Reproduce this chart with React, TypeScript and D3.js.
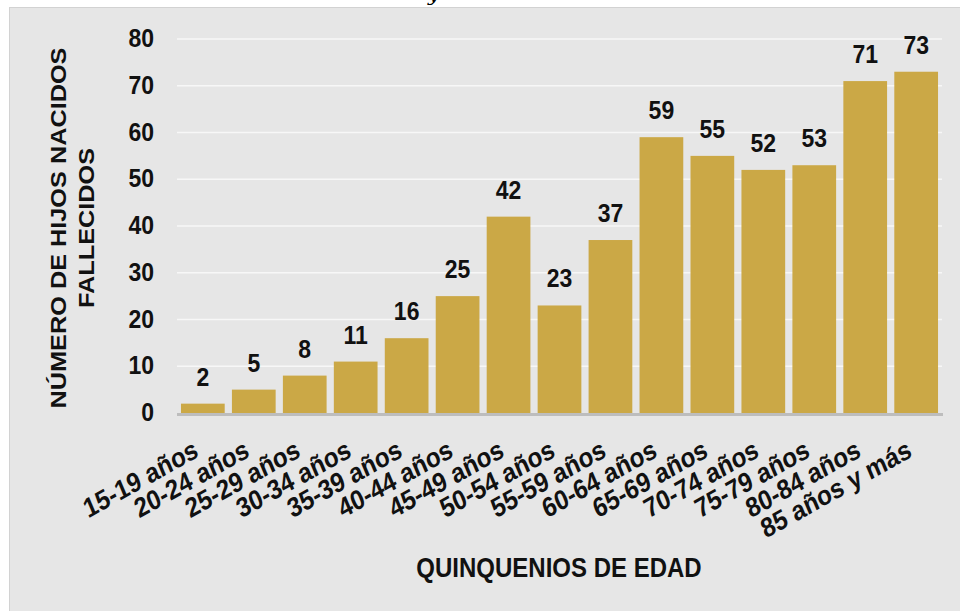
import * as d3 from "d3";
import { useRef, useEffect } from "react";

// datos del gráfico
const categories = [
	"15-19 años", "20-24 años", "25-29 años", "30-34 años", "35-39 años",
	"40-44 años", "45-49 años", "50-54 años", "55-59 años", "60-64 años",
	"65-69 años", "70-74 años", "75-79 años", "80-84 años", "85 años y más",
];
const values = [2, 5, 8, 11, 16, 25, 42, 23, 37, 59, 55, 52, 53, 71, 73];
const yTicks = [0, 10, 20, 30, 40, 50, 60, 70, 80];
const yTitle = ["NÚMERO DE HIJOS NACIDOS", "FALLECIDOS"];
const xTitle = "QUINQUENIOS DE EDAD";

const W = 960;
const H = 611;
const FONT = "'Liberation Sans', Arial, sans-serif";
const S = 1.15; // el texto de la imagen está estirado en vertical

const App = () => {
	const chartRef = useRef(null);

	const margin = { top: 39, bottom: 198, left: 177, right: 18 };
	const boundsWidth = W - margin.left - margin.right;
	const boundsHeight = H - margin.top - margin.bottom;

	useEffect(() => {
		const svg = d3.select(chartRef.current);
		svg.selectAll("*").remove();

		// texto con estiramiento vertical
		const label = (parent, x, y, txt, size, anchor, rot = 0) =>
			parent.append("g")
				.attr("transform", `translate(${x}, ${y}) scale(1, ${S}) rotate(${rot})`)
				.append("text")
				.attr("text-anchor", anchor)
				.style("font-family", FONT)
				.style("font-size", `${size}px`)
				.style("font-weight", "bold")
				.style("fill", "#111")
				.text(txt);

		// fondo gris
		svg.append("rect")
			.attr("x", 9.5).attr("y", 7.5)
			.attr("width", W).attr("height", H)
			.style("fill", "#e6e6e6")
			.style("stroke", "#d2d2d2")
			.style("stroke-width", 1);

		// fragmento del título cortado arriba
		svg.append("text")
			.attr("x", 428).attr("y", 1)
			.style("font-family", "'DejaVu Serif', serif")
			.style("font-style", "italic")
			.style("font-size", "20px")
			.text("y");

		const scaleX = d3.scaleBand()
			.domain(categories)
			.range([0, boundsWidth])
			.paddingInner(0.142)
			.paddingOuter(0.078);

		const scaleY = d3.scaleLinear()
			.domain([0, 80])
			.range([boundsHeight, 0]);

		const g = svg.append("g")
			.attr("transform", `translate(${margin.left}, ${margin.top})`);

		// líneas de la cuadrícula
		g.selectAll(".grid")
			.data(yTicks.filter(t => t > 0))
			.enter()
			.append("line")
			.attr("x1", 0).attr("x2", boundsWidth)
			.attr("y1", d => scaleY(d)).attr("y2", d => scaleY(d))
			.style("stroke", "#f7f7f7")
			.style("stroke-width", 1.5);

		// eje Y
		yTicks.forEach(t => label(g, -23, scaleY(t) + 8, t, 23, "end"));

		// barras
		g.selectAll(".bar")
			.data(values)
			.enter()
			.append("rect")
			.attr("x", (d, i) => scaleX(categories[i]))
			.attr("y", d => scaleY(d))
			.attr("width", scaleX.bandwidth())
			.attr("height", d => boundsHeight - scaleY(d))
			.style("fill", "#cba846");

		// etiquetas de valores
		values.forEach((v, i) =>
			label(g, scaleX(categories[i]) + scaleX.bandwidth() / 2, scaleY(v) - 18, v, 23, "middle"));

		// eje X
		g.append("line")
			.attr("x1", 0).attr("x2", boundsWidth + 1)
			.attr("y1", boundsHeight + 1.5).attr("y2", boundsHeight + 1.5)
			.style("stroke", "#bdbdbd")
			.style("stroke-width", 3);

		categories.forEach(c =>
			label(g, scaleX(c) + scaleX.bandwidth() / 2 - 3, boundsHeight + 43, c, 24, "end", -26));

		// títulos de ejes
		label(svg, 559, 577, xTitle, 24, "middle");

		const yt = svg.append("g")
			.attr("transform", `translate(72, 228) scale(1, ${S}) rotate(-90)`)
			.append("text")
			.attr("text-anchor", "middle")
			.style("font-family", FONT)
			.style("font-size", "22px")
			.style("font-weight", "bold")
			.style("fill", "#111");
		yTitle.forEach((t, i) => {
			yt.append("tspan")
				.attr("x", 0)
				.attr("y", i === 0 ? -6 : 22)
				.text(t);
		});
	}, []);

	return (
		<svg ref={chartRef} width={W} height={H}
			style={{ position: "absolute", left: 0, top: 0, background: "#fff" }}></svg>
	);
};

export default App;
